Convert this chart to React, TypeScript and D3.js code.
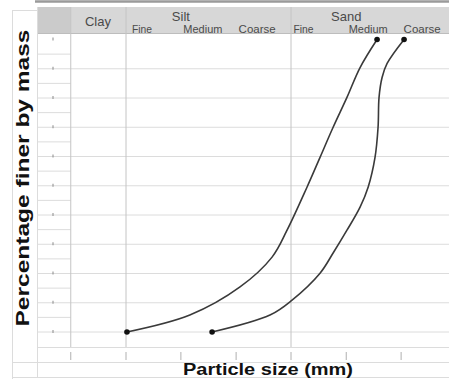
import React from "react";
import * as d3 from "d3";

// ---- data ----
const boundaries = [0.00063, 0.002, 0.0063, 0.02, 0.063, 0.2, 0.63];
const mainLabels = ["Clay", "Silt", "Sand"];
const mainLabelSizes = [0.0011, 0.0063, 0.2];
const subLabels = ["Fine", "Medium", "Coarse", "Fine", "Medium", "Coarse"];
const subLabelStarts = [0.002, 0.0063, 0.02, 0.063, 0.2, 0.63];
const majorPercents = [0, 10, 20, 30, 40, 50, 60, 70, 80, 90];
const tickPercents = [0, 10, 20, 30, 40, 50, 60, 70, 80, 90, 100];
const halfPercents = [5, 15, 25, 35, 45, 55, 65, 75, 85, 95];

const sampleASize = [0.00204, 0.0076, 0.0217, 0.0424, 0.058, 0.088, 0.1156, 0.152, 0.203, 0.267, 0.381];
const sampleAPct = [0, 5.8, 15.4, 25.6, 34.8, 49.5, 59.7, 70, 80.2, 90.4, 100];
const sampleBSize = [0.0121, 0.0406, 0.0644, 0.1156, 0.152, 0.203, 0.267, 0.316, 0.365, 0.389, 0.397, 0.423, 0.47, 0.67];
const sampleBPct = [0, 5.8, 10.9, 20.1, 27, 34.8, 42.7, 49.5, 59.7, 70, 80.2, 87, 91.8, 100];

export default function App() {
  const W = 449, H = 379;
  const x = d3.scaleLog().domain([0.002, 0.063]).range([126, 291]);
  const y = d3.scaleLinear().domain([0, 100]).range([332, 39.5]);
  const line = d3
    .line<[number, number]>()
    .x((d) => x(d[0]))
    .y((d) => y(d[1]))
    .curve(d3.curveCatmullRom.alpha(0.5));
  const A: [number, number][] = sampleASize.map((s, i) => [s, sampleAPct[i]]);
  const B: [number, number][] = sampleBSize.map((s, i) => [s, sampleBPct[i]]);
  const colL = 38, colR = x(boundaries[0]);
  const gridC = "#dcdcdc";
  const vC = "#c4c4c4";
  const txt = "#4a4a4a";
  const ff = "Liberation Sans, Arial, sans-serif";

  return (
    <svg width={W} height={H} style={{ position: "absolute", left: 0, top: 0, background: "#fff" }}>
      <rect x={0} y={0} width={W} height={H} fill="#fff" />
      {/* top rule */}
      <line x1={35} x2={W} y1={1.5} y2={1.5} stroke="#9a9a9a" strokeWidth={2.5} />
      {/* header band */}
      <rect x={colL} y={7} width={W - colL} height={26} fill="#d7d7d7" />
      <rect x={colL} y={7} width={colR - colL} height={26} fill="#cbcbcb" />
      <line x1={colL} x2={W} y1={33.5} y2={33.5} stroke="#bdbdbd" />
      {/* outer left box */}
      <line x1={12.5} x2={12.5} y1={10} y2={H} stroke={gridC} />
      <line x1={12} x2={colL} y1={10.5} y2={10.5} stroke={gridC} />
      <line x1={colL - 0.5} x2={colL - 0.5} y1={7} y2={377} stroke={gridC} />
      {/* half lines in left column */}
      {halfPercents.map((p) => (
        <line key={"h" + p} x1={colL} x2={colR} y1={y(p)} y2={y(p)} stroke={gridC} />
      ))}
      {/* major horizontal grid */}
      {majorPercents.map((p) => (
        <line key={"m" + p} x1={colL} x2={W} y1={y(p)} y2={y(p)} stroke={gridC} />
      ))}
      {/* left column ticks */}
      {tickPercents.map((p) => (
        <line key={"t" + p} x1={53} x2={53} y1={y(p) - 2} y2={y(p) + 1} stroke="#8a8a8a" />
      ))}
      {/* bottom rows */}
      <line x1={colL} x2={W} y1={347.5} y2={347.5} stroke={gridC} />
      <line x1={12} x2={W} y1={362.5} y2={362.5} stroke={gridC} />
      <line x1={12} x2={W} y1={377.5} y2={377.5} stroke={gridC} />
      {boundaries.map((b) => (
        <line key={"b" + b} x1={x(b)} x2={x(b)} y1={352} y2={360} stroke="#b0b0b0" />
      ))}
      {/* vertical dividers */}
      {[boundaries[0], boundaries[1], boundaries[4]].map((b) => (
        <line key={"v" + b} x1={x(b)} x2={x(b)} y1={7} y2={347} stroke={vC} />
      ))}
      {/* header labels */}
      {mainLabels.map((l, i) => (
        <text key={l} x={i === 0 ? 98 : x(mainLabelSizes[i])} y={i === 0 ? 26 : 20.5} textAnchor="middle"
          fontFamily={ff} fontSize={13} fill={txt}>{l}</text>
      ))}
      {subLabels.map((l, i) => (
        <text key={"s" + i} x={x(subLabelStarts[i]) + (i === 0 ? 6 : 2.5)} y={32.5} fontFamily={ff}
          fontSize={10.5} fill={txt} textLength={l === "Fine" ? 20 : l === "Medium" ? 39 : 37} lengthAdjust="spacingAndGlyphs">{l}</text>
      ))}
      {/* curves */}
      <path d={line(A) || ""} fill="none" stroke="#3a3a3a" strokeWidth={1.6} />
      <path d={line(B) || ""} fill="none" stroke="#3a3a3a" strokeWidth={1.6} />
      {[A[0], A[A.length - 1], B[0], B[B.length - 1]].map((d, i) => (
        <circle key={"c" + i} cx={x(d[0])} cy={y(d[1])} r={2.8} fill="#111" />
      ))}
      {/* axis titles */}
      <text transform="translate(29,178) rotate(-90)" textAnchor="middle" fontFamily={ff} fontWeight="bold"
        fontSize={19} fill="#111" textLength={297} lengthAdjust="spacingAndGlyphs">Percentage finer by mass</text>
      <text x={268} y={375} textAnchor="middle" fontFamily={ff} fontWeight="bold" fontSize={16} fill="#111"
        textLength={170} lengthAdjust="spacingAndGlyphs">Particle size (mm)</text>
    </svg>
  );
}
